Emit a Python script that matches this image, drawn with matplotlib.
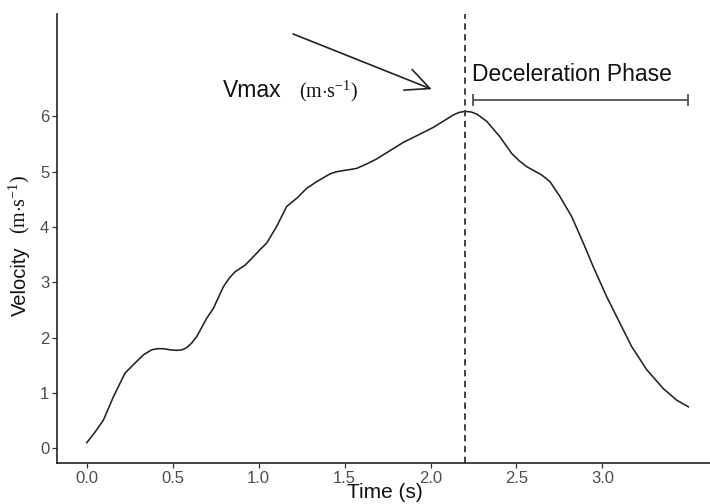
import matplotlib
matplotlib.use("Agg")
import matplotlib.pyplot as plt
import numpy as np

plt.rcParams['font.family'] = ['Liberation Sans', 'DejaVu Sans']
plt.rcParams['mathtext.fontset'] = 'custom'
plt.rcParams['mathtext.rm'] = 'Liberation Serif'
plt.rcParams['mathtext.sf'] = 'Liberation Sans'

# Data
time_s = [0.0, 0.05, 0.097, 0.155, 0.223, 0.271, 0.33, 0.378, 0.41, 0.446, 0.485, 0.523,
          0.555, 0.582, 0.61, 0.64, 0.698, 0.737, 0.795, 0.83, 0.863, 0.921, 0.95, 1.008,
          1.047, 1.105, 1.163, 1.222, 1.28, 1.338, 1.415, 1.455, 1.493, 1.535, 1.571,
          1.629, 1.687, 1.764, 1.842, 1.92, 2.016, 2.094, 2.13, 2.165, 2.20, 2.235,
          2.27, 2.327, 2.404, 2.472, 2.515, 2.56, 2.647, 2.695, 2.753, 2.821, 2.889,
          2.947, 3.025, 3.102, 3.17, 3.258, 3.354, 3.432, 3.50]
velocity = [0.10, 0.30, 0.51, 0.93, 1.36, 1.51, 1.69, 1.78, 1.80, 1.80, 1.78, 1.77,
            1.78, 1.82, 1.90, 2.02, 2.35, 2.53, 2.92, 3.08, 3.19, 3.31, 3.40, 3.59,
            3.71, 4.01, 4.37, 4.52, 4.70, 4.82, 4.96, 5.00, 5.02, 5.04, 5.06,
            5.14, 5.23, 5.38, 5.53, 5.65, 5.80, 5.95, 6.02, 6.07, 6.09, 6.08,
            6.04, 5.91, 5.63, 5.33, 5.20, 5.09, 4.94, 4.82, 4.55, 4.19, 3.71,
            3.28, 2.74, 2.26, 1.84, 1.42, 1.08, 0.87, 0.75]
vmax_time = 2.20
decel_start, decel_end, decel_level = 2.25, 3.50, 6.30
xticks = [0.0, 0.5, 1.0, 1.5, 2.0, 2.5, 3.0]
xtick_labels = ["0.0", "0.5", "1.0", "1.5", "2.0", "2.5", "3.0"]
yticks = [0, 1, 2, 3, 4, 5, 6]

W, H = 710, 504
fig = plt.figure(figsize=(W / 100, H / 100), dpi=100)
ax = fig.add_axes([57 / W, 41 / H, 1 - 57 / W, (463 - 14) / H])

ax.plot(time_s, velocity, color='#222222', lw=1.15, solid_joinstyle='round')
ax.axvline(vmax_time, color='#333333', lw=1.3, linestyle=(0, (3.5, 2.5)))

# deceleration phase bar
half = (decel_end - decel_start) / 2
ax.errorbar([(decel_start + decel_end) / 2], [decel_level], xerr=[[half], [half]],
            fmt='none', ecolor='#444444', elinewidth=1.2, capsize=4.5, capthick=1.2)
ax.text(2.24, 6.64, "Deceleration Phase", fontsize=16.5, color='#111111',
        ha='left', va='baseline')

# Vmax arrow + label
ax.annotate("", xy=(2.007, 6.49), xytext=(1.20, 7.49),
            arrowprops=dict(arrowstyle='->,head_length=1.7,head_width=0.8',
                            mutation_scale=10, color='#222222', lw=1.2,
                            shrinkA=0, shrinkB=0))
ax.text(0.795, 6.35, "Vmax", fontsize=16.5, color='#111111', ha='left', va='baseline')
ax.text(1.237, 6.35, r"$\mathrm{(m{\cdot}s^{-1})}$", fontsize=14.5, color='#111111',
        ha='left', va='baseline')

ax.set_xlim(-0.173, 3.626)
ax.set_ylim(-0.266, 7.85)
ax.set_xticks(xticks)
ax.set_xticklabels(xtick_labels)
ax.set_yticks(yticks)

for s in ['top', 'right']:
    ax.spines[s].set_visible(False)
for s in ['left', 'bottom']:
    ax.spines[s].set_linewidth(1.2)
    ax.spines[s].set_color('#222222')

ax.tick_params(axis='both', length=3.5, width=0.9, color='#333333',
               labelcolor='#4D4D4D', labelsize=12, pad=2)

# x-axis label (kept fully inside the canvas)
fig.text(385 / W, 1.5 / H, "Time (s)", fontsize=15, ha='center', va='bottom',
         color='#111111')

# y-axis label in two parts (sans + serif units)
fig.text(20 / W, 1 - 281 / H, "Velocity", rotation=90, fontsize=14.5,
         ha='center', va='center', color='#111111')
fig.text(19 / W, 1 - 204 / H, r"$\mathrm{(m{\cdot}s^{-1})}$", rotation=90,
         fontsize=14.5, ha='center', va='center', color='#111111')

fig.savefig("out.png", dpi=100)
